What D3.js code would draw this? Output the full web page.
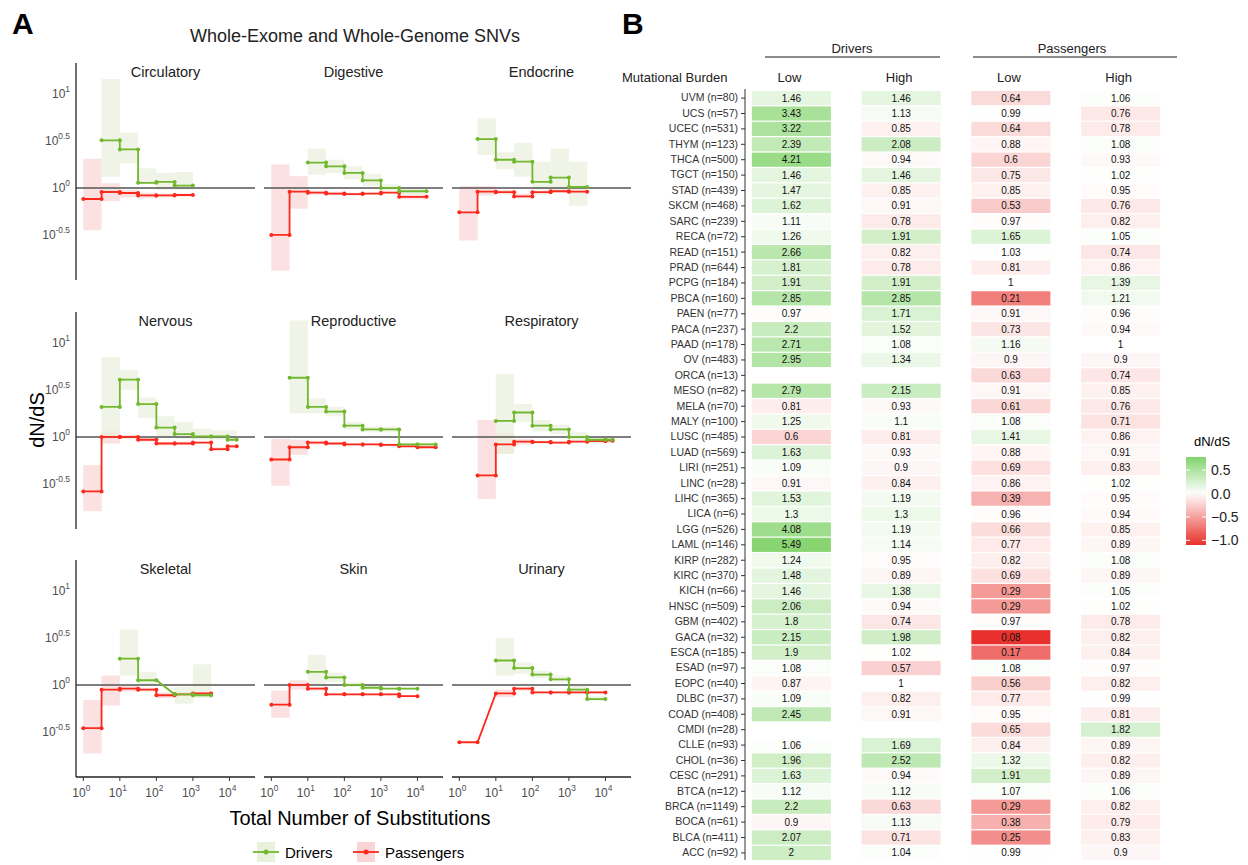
<!DOCTYPE html>
<html><head><meta charset="utf-8">
<script src="https://cdn.jsdelivr.net/npm/d3@7"></script>
<style>body{margin:0;background:#fff}svg{font-family:"Liberation Sans",Arial,sans-serif}</style>
</head><body>
<svg id="chart" width="1248" height="865"></svg>
<script>
// ---- Panel A data: bins in log10 units [x0, x1, value, lo, hi] ----
const panelNames = ["Circulatory","Digestive","Endocrine","Nervous","Reproductive","Respiratory","Skeletal","Skin","Urinary"];
const circulatoryDrivers = [[0.5,1,0.507,0.12,1.16],[1,1.5,0.41,0.26,0.59],[1.5,2,0.054,0.04,0.21],[2,2.5,0.064,-0.02,0.16],[2.5,3,0.025,-0.02,0.17]];
const circulatoryPassengers = [[0,0.5,-0.118,-0.45,0.31],[0.5,1,-0.043,-0.14,0.05],[1,1.5,-0.054,-0.1,-0.02],[1.5,2,-0.08,-0.11,-0.05],[2,2.5,-0.08,-0.1,-0.06],[2.5,3,-0.075,-0.09,-0.06]];
const digestiveDrivers = [[1,1.5,0.27,0.14,0.42],[1.5,2,0.23,0.16,0.3],[2,2.5,0.16,0.09,0.23],[2.5,3,0.08,0.02,0.15],[3,3.5,0.0,-0.03,0.04],[3.5,4.25,-0.035,-0.07,0.0]];
const digestivePassengers = [[0,0.5,-0.5,-0.88,0.25],[0.5,1,-0.04,-0.22,0.125],[1,1.5,-0.05,-0.07,-0.03],[1.5,2,-0.06,-0.08,-0.04],[2,2.5,-0.065,-0.08,-0.05],[2.5,3,-0.06,-0.07,-0.05],[3,3.5,-0.05,-0.06,-0.04],[3.5,4.25,-0.095,-0.12,-0.07]];
const endocrineDrivers = [[0.5,1,0.52,0.35,0.74],[1,1.5,0.3,0.2,0.38],[1.5,2,0.28,0.12,0.48],[2,2.5,0.065,-0.02,0.28],[2.5,3,0.11,-0.03,0.42],[3,3.5,0.01,-0.19,0.28]];
const endocrinePassengers = [[0,0.5,-0.26,-0.56,0.02],[0.5,1,-0.04,-0.08,0.02],[1,1.5,-0.045,-0.07,-0.02],[1.5,2,-0.09,-0.11,-0.06],[2,2.5,-0.045,-0.07,-0.03],[2.5,3,-0.035,-0.05,-0.02],[3,3.5,-0.04,-0.06,-0.02]];
const nervousDrivers = [[0.5,1,0.32,0.0,0.85],[1,1.5,0.61,0.5,0.71],[1.5,2,0.35,0.2,0.42],[2,2.5,0.1,0.0,0.22],[2.5,3,0.03,-0.02,0.16],[3,3.5,0.005,-0.03,0.09],[3.5,3.95,0.005,-0.03,0.07],[3.95,4.2,-0.03,-0.05,0.07]];
const nervousPassengers = [[0,0.5,-0.58,-0.79,-0.3],[0.5,1,0.0,-0.07,0.06],[1,1.5,0.0,-0.02,0.02],[1.5,2,-0.03,-0.05,-0.01],[2,2.5,-0.07,-0.09,-0.05],[2.5,3,-0.07,-0.08,-0.05],[3,3.5,-0.06,-0.07,-0.05],[3.5,3.95,-0.13,-0.15,-0.11],[3.95,4.2,-0.1,-0.12,-0.08]];
const reproductiveDrivers = [[0.5,1,0.63,0.25,1.24],[1,1.5,0.32,0.25,0.41],[1.5,2,0.27,0.22,0.32],[2,2.5,0.12,0.08,0.16],[2.5,3,0.08,0.05,0.11],[3,3.5,0.08,0.05,0.11],[3.5,4,-0.08,-0.1,-0.06],[4,4.5,-0.08,-0.1,-0.06]];
const reproductivePassengers = [[0,0.5,-0.24,-0.52,-0.02],[0.5,1,-0.11,-0.19,-0.03],[1,1.5,-0.06,-0.08,-0.04],[1.5,2,-0.07,-0.08,-0.06],[2,2.5,-0.08,-0.09,-0.07],[2.5,3,-0.08,-0.09,-0.07],[3,3.5,-0.085,-0.1,-0.07],[3.5,4,-0.1,-0.11,-0.09],[4,4.5,-0.11,-0.12,-0.1]];
const respiratoryDrivers = [[1,1.5,0.17,-0.18,0.67],[1.5,2,0.26,0.16,0.35],[2,2.5,0.12,0.06,0.18],[2.5,3,0.08,0.03,0.13],[3,3.5,0.0,-0.04,0.05],[3.5,4,-0.03,-0.06,0.0],[4,4.2,-0.03,-0.06,0.0]];
const respiratoryPassengers = [[0.5,1,-0.41,-0.66,0.18],[1,1.5,-0.08,-0.18,0.04],[1.5,2,-0.05,-0.08,-0.02],[2,2.5,-0.055,-0.07,-0.04],[2.5,3,-0.06,-0.07,-0.05],[3,3.5,-0.05,-0.06,-0.04],[3.5,4,-0.045,-0.06,-0.03],[4,4.2,-0.04,-0.06,-0.02]];
const skeletalDrivers = [[1,1.5,0.28,0.1,0.59],[1.5,2,0.05,0.0,0.14],[2.5,3,-0.1,-0.2,-0.02],[3,3.5,-0.11,-0.14,0.22]];
const skeletalPassengers = [[0,0.5,-0.46,-0.73,-0.16],[0.5,1,-0.05,-0.22,0.1],[1,1.5,-0.04,-0.07,-0.01],[1.5,2,-0.05,-0.07,-0.03],[2,2.5,-0.11,-0.14,-0.08],[2.5,3,-0.1,-0.12,-0.08],[3,3.5,-0.09,-0.11,-0.07]];
const skinDrivers = [[1,1.5,0.14,0.0,0.32],[1.5,2,0.08,0.03,0.13],[2,2.5,0.0,-0.02,0.03],[2.5,3,-0.03,-0.05,-0.01],[3,3.5,-0.04,-0.05,-0.03],[3.5,4,-0.04,-0.05,-0.03]];
const skinPassengers = [[0,0.5,-0.21,-0.35,-0.06],[0.5,1,0.0,-0.05,0.05],[1,1.5,-0.04,-0.06,-0.02],[1.5,2,-0.1,-0.11,-0.09],[2,2.5,-0.1,-0.11,-0.09],[2.5,3,-0.1,-0.11,-0.09],[3,3.5,-0.1,-0.11,-0.09],[3.5,4,-0.12,-0.13,-0.11]];
const urinaryDrivers = [[1,1.5,0.26,0.1,0.5],[1.5,2,0.18,0.12,0.24],[2,2.5,0.11,0.07,0.15],[2.5,3,0.06,0.03,0.1],[3,3.5,-0.05,-0.08,-0.01],[3.5,4,-0.15,-0.17,-0.12]];
const urinaryPassengers = [[0,0.5,-0.61,-0.61,-0.61],[1,1.5,-0.09,-0.13,-0.05],[1.5,2,-0.04,-0.06,-0.02],[2,2.5,-0.08,-0.09,-0.07],[2.5,3,-0.08,-0.09,-0.07],[3,3.5,-0.08,-0.09,-0.07],[3.5,4,-0.08,-0.09,-0.07]];
const driversByPanel = [circulatoryDrivers,digestiveDrivers,endocrineDrivers,nervousDrivers,reproductiveDrivers,respiratoryDrivers,skeletalDrivers,skinDrivers,urinaryDrivers];
const passengersByPanel = [circulatoryPassengers,digestivePassengers,endocrinePassengers,nervousPassengers,reproductivePassengers,respiratoryPassengers,skeletalPassengers,skinPassengers,urinaryPassengers];
const yTicks = [1, 0.5, 0, -0.5];
const xTicks = [0, 1, 2, 3, 4];

// ---- Panel B data ----
const cancers = ["UVM (n=80)","UCS (n=57)","UCEC (n=531)","THYM (n=123)","THCA (n=500)","TGCT (n=150)","STAD (n=439)","SKCM (n=468)","SARC (n=239)","RECA (n=72)","READ (n=151)","PRAD (n=644)","PCPG (n=184)","PBCA (n=160)","PAEN (n=77)","PACA (n=237)","PAAD (n=178)","OV (n=483)","ORCA (n=13)","MESO (n=82)","MELA (n=70)","MALY (n=100)","LUSC (n=485)","LUAD (n=569)","LIRI (n=251)","LINC (n=28)","LIHC (n=365)","LICA (n=6)","LGG (n=526)","LAML (n=146)","KIRP (n=282)","KIRC (n=370)","KICH (n=66)","HNSC (n=509)","GBM (n=402)","GACA (n=32)","ESCA (n=185)","ESAD (n=97)","EOPC (n=40)","DLBC (n=37)","COAD (n=408)","CMDI (n=28)","CLLE (n=93)","CHOL (n=36)","CESC (n=291)","BTCA (n=12)","BRCA (n=1149)","BOCA (n=61)","BLCA (n=411)","ACC (n=92)"];
const driversLow = [1.46,3.43,3.22,2.39,4.21,1.46,1.47,1.62,1.11,1.26,2.66,1.81,1.91,2.85,0.97,2.2,2.71,2.95,null,2.79,0.81,1.25,0.6,1.63,1.09,0.91,1.53,1.3,4.08,5.49,1.24,1.48,1.46,2.06,1.8,2.15,1.9,1.08,0.87,1.09,2.45,null,1.06,1.96,1.63,1.12,2.2,0.9,2.07,2];
const driversHigh = [1.46,1.13,0.85,2.08,0.94,1.46,0.85,0.91,0.78,1.91,0.82,0.78,1.91,2.85,1.71,1.52,1.08,1.34,null,2.15,0.93,1.1,0.81,0.93,0.9,0.84,1.19,1.3,1.19,1.14,0.95,0.89,1.38,0.94,0.74,1.98,1.02,0.57,1,0.82,0.91,null,1.69,2.52,0.94,1.12,0.63,1.13,0.71,1.04];
const passengersLow = [0.64,0.99,0.64,0.88,0.6,0.75,0.85,0.53,0.97,1.65,1.03,0.81,1,0.21,0.91,0.73,1.16,0.9,0.63,0.91,0.61,1.08,1.41,0.88,0.69,0.86,0.39,0.96,0.66,0.77,0.82,0.69,0.29,0.29,0.97,0.08,0.17,1.08,0.56,0.77,0.95,0.65,0.84,1.32,1.91,1.07,0.29,0.38,0.25,0.99];
const passengersHigh = [1.06,0.76,0.78,1.08,0.93,1.02,0.95,0.76,0.82,1.05,0.74,0.86,1.39,1.21,0.96,0.94,1,0.9,0.74,0.85,0.76,0.71,0.86,0.91,0.83,1.02,0.95,0.94,0.85,0.89,1.08,0.89,1.05,1.02,0.78,0.82,0.84,0.97,0.82,0.99,0.81,1.82,0.89,0.82,0.89,1.06,0.82,0.79,0.83,0.9];
const columnKeys = ["DL","DH","PL","PH"];
const columnLabels = ["Low","High","Low","High"];
const legendTicks = [0.5, 0, -0.5, -1];

const svg = d3.select("#chart");
const GREEN = "#72b82f", RED = "#fb2a1c";

// ===== Panel A =====
svg.append("text").attr("x",12).attr("y",34).attr("font-size",30).attr("font-weight","bold").text("A");
svg.append("text").attr("x",355).attr("y",42).attr("text-anchor","middle").attr("font-size",18).attr("fill","#222").text("Whole-Exome and Whole-Genome SNVs");

const colX = [76, 264, 452], panelW = 179;
const rowY = [63, 312, 560], panelH = 217;

function supLabel(sel, exp) {
  sel.append("tspan").text("10");
  sel.append("tspan").attr("dy", -6).attr("font-size", "0.7em").text(exp);
}

panelNames.forEach((name, i) => {
  const c = i % 3, r = Math.floor(i / 3);
  const g = svg.append("g").attr("transform", `translate(${colX[c]},${rowY[r]})`);
  const x = d3.scaleLinear().domain([-0.2, 4.7]).range([0, panelW]);
  const y = d3.scaleLinear().domain([-0.98, 1.33]).range([panelH, 0]);

  g.append("text").attr("x", panelW / 2).attr("y", 14).attr("text-anchor","middle").attr("font-size",14.5).attr("fill","#222").text(name);

  [["d", passengersByPanel[i], RED, "#f9d4d4"], ["d", driversByPanel[i], GREEN, "#e9f0dc"]].forEach(([_, bins, col, fill]) => {
    g.selectAll(null).data(bins.filter(b => b[4] > b[3])).enter().append("rect")
      .attr("x", b => x(b[0])).attr("width", b => x(b[1]) - x(b[0]))
      .attr("y", b => y(b[4])).attr("height", b => y(b[3]) - y(b[4]))
      .attr("fill", fill).attr("opacity", 0.7);
  });

  g.append("line").attr("x1", 0).attr("x2", panelW).attr("y1", y(0)).attr("y2", y(0)).attr("stroke","#555").attr("stroke-width",1.6);

  [[passengersByPanel[i], RED], [driversByPanel[i], GREEN]].forEach(([bins, col]) => {
    const pts = [];
    bins.forEach(b => { pts.push([b[0], b[2]]); pts.push([b[1], b[2]]); });
    g.append("path").attr("d", d3.line().x(p => x(p[0])).y(p => y(p[1]))(pts))
      .attr("fill","none").attr("stroke", col).attr("stroke-width", 1.8);
    g.selectAll(null).data(pts).enter().append("circle")
      .attr("cx", p => x(p[0])).attr("cy", p => y(p[1])).attr("r", 2).attr("fill", col);
  });

  if (c === 0) {
    g.append("line").attr("x1",0).attr("x2",0).attr("y1",0).attr("y2",panelH).attr("stroke","#222").attr("stroke-width",1.3);
    yTicks.forEach(t => {
      const tx = g.append("text").attr("x",-6).attr("y", y(t) + 4).attr("text-anchor","end").attr("font-size",12).attr("fill","#4d4d4d");
      supLabel(tx, t);
    });
  }
  if (r === 2) {
    g.append("line").attr("x1",0).attr("x2",panelW).attr("y1",panelH).attr("y2",panelH).attr("stroke","#222").attr("stroke-width",1.3);
    xTicks.forEach(t => {
      g.append("line").attr("x1",x(t)).attr("x2",x(t)).attr("y1",panelH).attr("y2",panelH+4).attr("stroke","#333");
      const tx = g.append("text").attr("x", x(t) - 2).attr("y", panelH + 20).attr("text-anchor","middle").attr("font-size",12).attr("fill","#4d4d4d");
      supLabel(tx, t);
    });
  }
});

svg.append("text").attr("x",44).attr("y",420).attr("transform","rotate(-90,44,420)").attr("text-anchor","middle").attr("font-size",20).text("dN/dS");
svg.append("text").attr("x",360).attr("y",825).attr("text-anchor","middle").attr("font-size",20).text("Total Number of Substitutions");

// legend A
[["Drivers", GREEN, "#e9f0dc", 253], ["Passengers", RED, "#f9d4d4", 353]].forEach(([lab, col, fill, lx]) => {
  svg.append("rect").attr("x", lx + 4).attr("y", 842).attr("width", 18).attr("height", 20).attr("fill", fill);
  svg.append("line").attr("x1", lx).attr("x2", lx + 26).attr("y1", 852).attr("y2", 852).attr("stroke", col).attr("stroke-width", 1.8);
  svg.append("circle").attr("cx", lx + 13).attr("cy", 852).attr("r", 2.5).attr("fill", col);
  svg.append("text").attr("x", lx + 32).attr("y", 858).attr("font-size", 15).text(lab);
});

// ===== Panel B =====
svg.append("text").attr("x",622).attr("y",34).attr("font-size",30).attr("font-weight","bold").text("B");

const rowScale = d3.scaleBand().domain(cancers).range([91, 860]).paddingInner(0.08);
const colScale = d3.scaleBand().domain(columnKeys).range([736.5, 1175.5]).paddingInner(0.28).paddingOuter(0.14);
const colorScale = d3.scaleLinear().domain([-1.1, 0, 0.8]).range(["#e8302b", "#ffffff", "#7ed267"]).clamp(true);
const columns = { DL: driversLow, DH: driversHigh, PL: passengersLow, PH: passengersHigh };

svg.append("text").attr("x",852).attr("y",53).attr("text-anchor","middle").attr("font-size",13).attr("fill","#222").text("Drivers");
svg.append("line").attr("x1",765).attr("x2",940).attr("y1",57).attr("y2",57).attr("stroke","#666").attr("stroke-width",1.5);
svg.append("text").attr("x",1072).attr("y",53).attr("text-anchor","middle").attr("font-size",13).attr("fill","#222").text("Passengers");
svg.append("line").attr("x1",973).attr("x2",1177).attr("y1",57).attr("y2",57).attr("stroke","#666").attr("stroke-width",1.5);
svg.append("text").attr("x",622).attr("y",82).attr("font-size",13).attr("fill","#222").text("Mutational Burden");
columnKeys.forEach((k, i) => {
  svg.append("text").attr("x", colScale(k) + colScale.bandwidth() / 2 - 2).attr("y", 82).attr("text-anchor","middle").attr("font-size",13).attr("fill","#222").text(columnLabels[i]);
});

const gy = svg.append("g").attr("transform","translate(745,0)");
gy.call(d3.axisLeft(rowScale).tickSize(4).tickPadding(3));
gy.select(".domain").attr("stroke","#333").attr("d", "M0,89V860");
gy.selectAll(".tick line").attr("stroke","#333");
gy.selectAll("text").attr("font-size",10.5).attr("fill","#333").attr("font-family","Liberation Sans, Arial, sans-serif");

columnKeys.forEach(k => {
  const vals = columns[k];
  const g = svg.append("g");
  g.selectAll("rect").data(cancers).enter().append("rect")
    .attr("x", colScale(k)).attr("width", colScale.bandwidth())
    .attr("y", d => rowScale(d)).attr("height", rowScale.bandwidth())
    .attr("fill", (d, j) => vals[j] == null ? "#fff" : colorScale(Math.log10(vals[j])));
  g.selectAll("text").data(cancers).enter().append("text")
    .attr("x", colScale(k) + colScale.bandwidth() / 2).attr("y", d => rowScale(d) + rowScale.bandwidth() / 2 + 3.5)
    .attr("text-anchor","middle").attr("font-size",10).attr("fill","#111")
    .text((d, j) => vals[j] == null ? "" : String(vals[j]));
});

// colour legend
const legY = d3.scaleLinear().domain([-1.1, 0.78]).range([545, 457]);
const defs = svg.append("defs");
const grad = defs.append("linearGradient").attr("id","lg").attr("x1",0).attr("x2",0).attr("y1",1).attr("y2",0);
d3.range(0, 1.0001, 0.1).forEach(f => {
  const v = -1.1 + f * 1.88;
  grad.append("stop").attr("offset", f).attr("stop-color", colorScale(v));
});
svg.append("text").attr("x",1212).attr("y",446).attr("text-anchor","middle").attr("font-size",13).text("dN/dS");
svg.append("rect").attr("x",1186).attr("y",legY(0.78)).attr("width",20).attr("height",legY(-1.1)-legY(0.78)).attr("fill","url(#lg)");
legendTicks.forEach(t => {
  svg.append("line").attr("x1",1186).attr("x2",1190).attr("y1",legY(t)).attr("y2",legY(t)).attr("stroke","#fff");
  svg.append("line").attr("x1",1202).attr("x2",1206).attr("y1",legY(t)).attr("y2",legY(t)).attr("stroke","#fff");
  svg.append("text").attr("x",1211).attr("y",legY(t)+5).attr("font-size",14).attr("fill","#222").text(d3.format(".1f")(t).replace("-", "-"));
});
</script>
</body></html>
